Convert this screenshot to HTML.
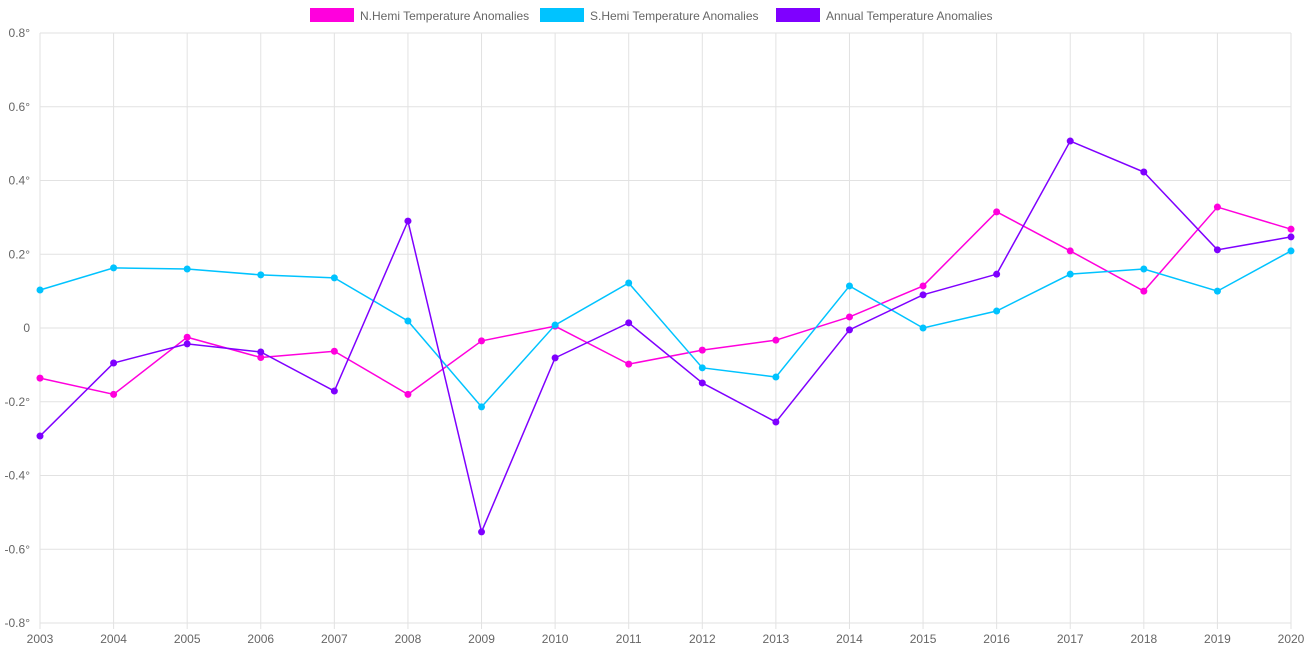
<!DOCTYPE html>
<html><head><meta charset="utf-8"><style>
html,body{margin:0;padding:0;background:#fff;}
svg{display:block;font-family:"Liberation Sans",sans-serif;}
</style></head><body>
<svg id="chart" width="1308" height="653">
<g id="grid"></g>
<g id="axes"></g>
<g id="series"></g>
<g id="legend"></g>
</svg>
<script>
const years = [2003,2004,2005,2006,2007,2008,2009,2010,2011,2012,2013,2014,2015,2016,2017,2018,2019,2020];
const nHemi = [-0.136,-0.18,-0.025,-0.08,-0.063,-0.18,-0.035,0.005,-0.098,-0.06,-0.033,0.03,0.114,0.315,0.209,0.1,0.328,0.268];
const sHemi = [0.103,0.163,0.16,0.144,0.136,0.019,-0.214,0.008,0.122,-0.108,-0.133,0.114,0,0.046,0.146,0.16,0.1,0.209];
const annual = [-0.293,-0.095,-0.043,-0.065,-0.171,0.29,-0.553,-0.081,0.014,-0.149,-0.255,-0.005,0.09,0.146,0.507,0.423,0.212,0.247];
const yTicks = [0.8,0.6,0.4,0.2,0,-0.2,-0.4,-0.6,-0.8];
const yTickLabels = ["0.8°","0.6°","0.4°","0.2°","0","-0.2°","-0.4°","-0.6°","-0.8°"];
const seriesNames = ["N.Hemi Temperature Anomalies","S.Hemi Temperature Anomalies","Annual Temperature Anomalies"];

const NS="http://www.w3.org/2000/svg";
const X0=40,X1=1291,Y0=33,Y1=623;
const xs=i=>X0+(X1-X0)*i/(years.length-1);
const ys=v=>Y0+(0.8-v)/1.6*(Y1-Y0);
function mk(tag,attrs,parent){const e=document.createElementNS(NS,tag);for(const k in attrs)e.setAttribute(k,attrs[k]);parent.appendChild(e);return e;}
const grid=document.getElementById('grid'),axes=document.getElementById('axes'),ser=document.getElementById('series'),leg=document.getElementById('legend');
yTicks.forEach((v,i)=>{
  const l=mk('line',{x1:X0,x2:X1,y1:ys(v),y2:ys(v),stroke:'#e2e2e2','stroke-width':1},grid);
  
  
  const t=mk('text',{x:30,y:ys(v)+4,'text-anchor':'end','font-size':12,fill:'#666'},axes);
  t.textContent=yTickLabels[i];
  
  
});
years.forEach((yr,i)=>{
  const l=mk('line',{x1:xs(i),x2:xs(i),y1:Y0,y2:Y1+6,stroke:'#e2e2e2','stroke-width':1},grid);
  
  
  const t=mk('text',{x:xs(i),y:643,'text-anchor':'middle','font-size':12,fill:'#666'},axes);
  t.textContent=yr;
  
  
});
const datasets=[[nHemi,'#ff00dd','n-hemi'],[sHemi,'#00c3ff','s-hemi'],[annual,'#7f00ff','annual']];
datasets.forEach(([d,c,n])=>{
  const p=mk('polyline',{points:d.map((v,i)=>xs(i)+','+ys(v)).join(' '),fill:'none',stroke:c,'stroke-width':1.5},ser);
  
  
  d.forEach((v,i)=>{
    const pt=mk('circle',{cx:xs(i),cy:ys(v),r:3.5,fill:c},ser);
    
    
  });
});
const legX=[310,540,776];
datasets.forEach(([d,c,n],i)=>{
  const r=mk('rect',{x:legX[i],y:8,width:44,height:14,fill:c},leg);
  
  
  const t=mk('text',{x:legX[i]+50,y:20,'font-size':12,fill:'#666'},leg);
  t.textContent=seriesNames[i];
  
  
});
</script>
</body></html>
